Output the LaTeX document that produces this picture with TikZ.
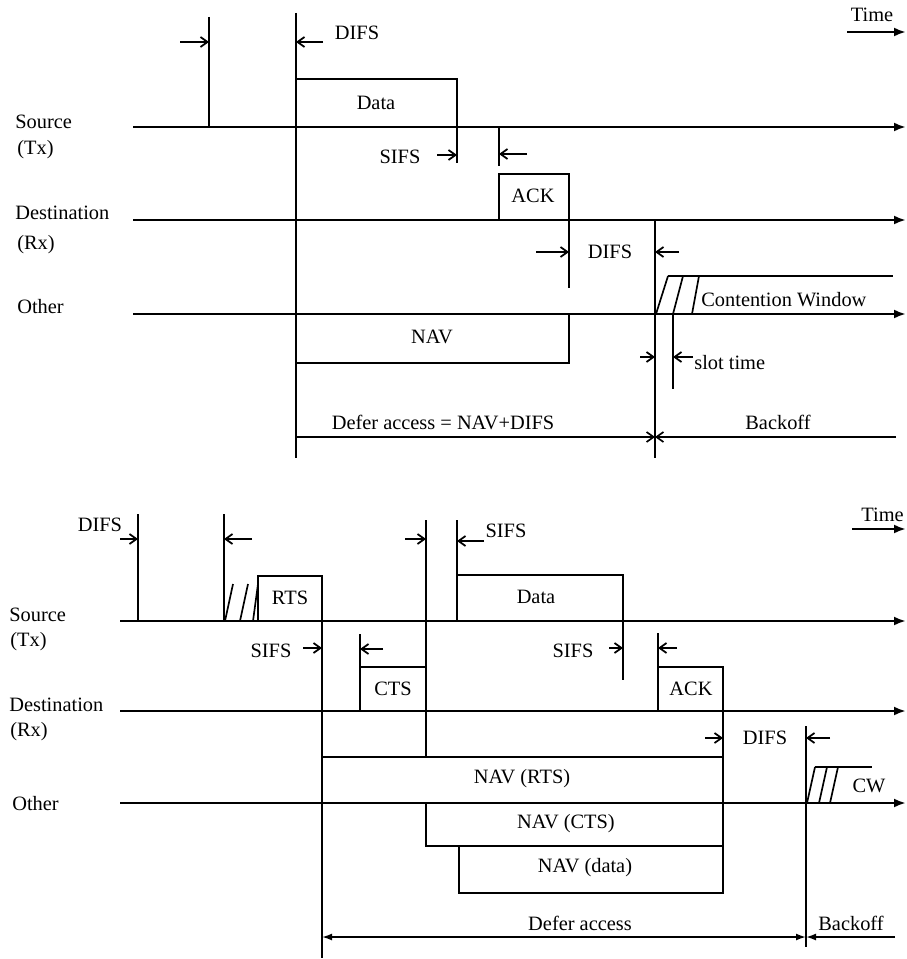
\documentclass[tikz,border=0pt]{standalone}
\usepackage{fontspec}
\setmainfont{Liberation Serif}
\usetikzlibrary{arrows.meta}
\tikzstyle{timeline} = [line width=1.5pt, -{Latex[length=2.4mm,width=1.8mm]}]
\tikzstyle{ifs} = [line width=1pt, -{Straight Barb[length=1.4mm,width=2mm]}]
\tikzstyle{frame} = [line width=1.4pt]
\tikzstyle{marker} = [line width=0.95pt]
\tikzstyle{station} = [anchor=west, inner sep=0pt]

\begin{document}
\begin{tikzpicture}[x=0.02cm, y=-0.02cm, font=\fontsize{11.6}{13}\selectfont]
  \useasboundingbox (0,0) rectangle (906,959);

  % basic access
  \node[station] (srcA) at (15,122) {Source};
  \node[station] (txA) at (17,150) {(Tx)};
  \node[station] (dstA) at (15,213) {Destination};
  \node[station] (rxA) at (17,245) {(Rx)};
  \node[station] (othA) at (17,307) {Other};
  \foreach \y in {127, 220, 314}
    \draw[timeline] (133,\y) -- (906,\y);
  \node (timeA) at (872,15) {Time};
  \draw[timeline] (847,32) -- (906,32);

  \draw[marker] (209,17) -- (209,127);
  \draw[ifs] (180,42) -- (209,42);
  \draw[marker] (296,13) -- (296,458);
  \draw[ifs] (323,42) -- (296,42);
  \node (difsA) at (357,33) {DIFS};

  \draw[frame] (296,127) -- (296,79) -- (457,79) -- (457,127);
  \node (dataA) at (376,103) {Data};
  \draw[marker] (457,127) -- (457,163);
  \draw[ifs] (437,155) -- (457,155);
  \node (sifsA) at (400,157) {SIFS};
  \draw[marker] (499,128) -- (499,166);
  \draw[ifs] (527,154) -- (499,154);

  \draw[frame] (499,220) -- (499,174) -- (569,174) -- (569,220);
  \node (ackA) at (533,196) {ACK};
  \draw[marker] (569,220) -- (569,288);
  \draw[ifs] (536,252) -- (569,252);
  \node (difsB) at (610,252) {DIFS};
  \draw[marker] (655,220) -- (655,458);
  \draw[ifs] (679,252) -- (655,252);

  \draw[marker] (668,276) -- (893,276);
  \foreach \b/\t in {656/668, 673/683, 692/699}
    \draw[marker] (\b,314) -- (\t,276);
  \node[station] (cwA) at (701,300) {Contention Window};
  \draw[marker] (673,314) -- (673,389);
  \draw[ifs] (640,357) -- (655,357);
  \draw[ifs] (693,357) -- (673,357);
  \node[station] (slotA) at (694,363) {slot time};

  \draw[frame] (296,314) -- (296,363) -- (569,363) -- (569,314);
  \node (navA) at (432,337) {NAV};
  \draw[marker, -{Straight Barb[length=1.4mm,width=2mm]}] (296,437) -- (655,437);
  \node (deferA) at (443,422) {Defer access = NAV+DIFS};
  \draw[marker, -{Straight Barb[length=1.4mm,width=2mm]}] (896,437) -- (655,437);
  \node (backA) at (778,422) {Backoff};

  % RTS/CTS access
  \node[station] (srcB) at (9,615) {Source};
  \node[station] (txB) at (10,642) {(Tx)};
  \node[station] (dstB) at (9,705) {Destination};
  \node[station] (rxB) at (10,732) {(Rx)};
  \node[station] (othB) at (12,804) {Other};
  \foreach \y in {621, 711, 803}
    \draw[timeline] (120,\y) -- (906,\y);
  \node[anchor=east, inner sep=0pt] (timeB) at (904,515) {Time};
  \draw[timeline] (852,529) -- (906,529);

  \node (difsC) at (100,525) {DIFS};
  \draw[ifs] (120,539) -- (138,539);
  \draw[marker] (138,514) -- (138,621);
  \draw[marker] (224,514) -- (224,621);
  \draw[ifs] (252,539) -- (224,539);
  \foreach \b/\t in {225/233, 240/248, 253/258}
    \draw[marker] (\b,621) -- (\t,584);

  \draw[frame] (258,621) -- (258,576) -- (322,576) -- (322,621);
  \node (rtsB) at (290,598) {RTS};
  \draw[marker] (322,621) -- (322,958);
  \node (sifsB) at (271,651) {SIFS};
  \draw[ifs] (303,648) -- (322,648);
  \draw[marker] (360,634) -- (360,667);
  \draw[ifs] (383,649) -- (360,649);

  \draw[frame] (360,711) -- (360,667) -- (426,667) -- (426,711);
  \node (ctsB) at (393,689) {CTS};
  \draw[marker] (426,520) -- (426,757);
  \draw[ifs] (405,539) -- (426,539);

  \draw[marker] (457,520) -- (457,575);
  \draw[ifs] (484,541) -- (457,541);
  \node (sifsC) at (506,531) {SIFS};
  \draw[frame] (457,621) -- (457,575) -- (623,575) -- (623,621);
  \node (dataB) at (536,597) {Data};
  \draw[marker] (623,621) -- (623,680);
  \node (sifsD) at (573,651) {SIFS};
  \draw[ifs] (609,648) -- (623,648);
  \draw[marker] (658,633) -- (658,667);
  \draw[ifs] (677,648) -- (658,648);

  \draw[frame] (658,711) -- (658,667) -- (723,667) -- (723,711);
  \node (ackB) at (691,689) {ACK};
  \draw[marker] (723,711) -- (723,757);
  \draw[ifs] (705,738) -- (723,738);
  \node (difsD) at (765,738) {DIFS};
  \draw[marker] (806,726) -- (806,947);
  \draw[ifs] (830,738) -- (806,738);

  \draw[marker] (815,767) -- (872,767);
  \foreach \b/\t in {807/815, 819/827, 830/838}
    \draw[marker] (\b,803) -- (\t,767);
  \node (cwB) at (869,786) {CW};

  \draw[frame] (322,803) -- (322,757) -- (723,757) -- (723,803);
  \node (navRts) at (522,779) {NAV (RTS)};
  \draw[frame] (426,803) -- (426,846) -- (723,846) -- (723,803);
  \node (navCts) at (566,824) {NAV (CTS)};
  \draw[frame] (459,846) -- (459,893) -- (723,893) -- (723,846);
  \node (navData) at (585,868) {NAV (data)};

  \draw[marker, {Latex[length=2mm,width=1.4mm]}-{Latex[length=2mm,width=1.4mm]}] (322,937) -- (806,937);
  \node (deferB) at (580,923) {Defer access};
  \draw[marker, -{Latex[length=2mm,width=1.4mm]}] (895,937) -- (806,937);
  \node (backB) at (851,923) {Backoff};
\end{tikzpicture}
\end{document}
